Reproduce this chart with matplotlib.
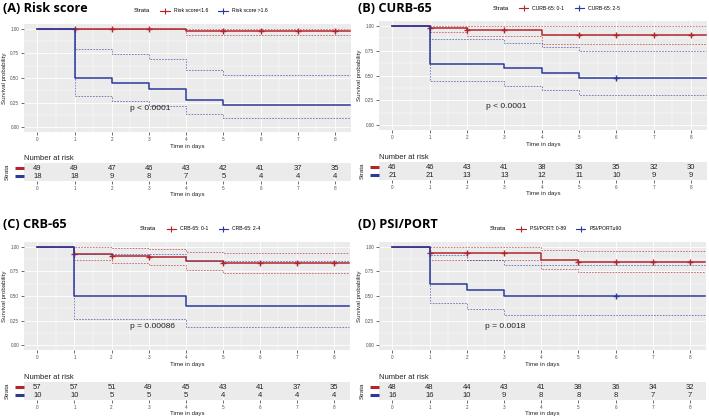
import numpy as np
import matplotlib.pyplot as plt
from matplotlib.lines import Line2D

plt.rcParams['font.family'] = ['Liberation Sans', 'DejaVu Sans']

RED = '#B2252B'
BLUE = '#2B3A9E'
END = 8.4
W, H = 709, 418

days = list(range(9))

# (A) Risk score
a_labels = ['Risk score<1.6', 'Risk score >1.6']
a_t_red = [0, 4]
a_s_red = [1.0, 0.977]
a_up_red = [1.0, 1.0]
a_lo_red = [1.0, 0.934]
a_cens_red = [1, 2, 3, 5, 6, 7, 8]
a_t_blue = [0, 1, 2, 3, 4, 5]
a_s_blue = [1.0, 0.5, 0.444, 0.389, 0.278, 0.222]
a_up_blue = [1.0, 0.794, 0.745, 0.694, 0.585, 0.527]
a_lo_blue = [1.0, 0.315, 0.265, 0.218, 0.132, 0.094]
a_cens_blue = []
a_risk_red = [49, 49, 47, 46, 43, 42, 41, 37, 35]
a_risk_blue = [18, 18, 9, 8, 7, 5, 4, 4, 4]

# (B) CURB-65
b_labels = ['CURB-65: 0-1', 'CURB-65: 2-5']
b_t_red = [0, 1, 2, 4]
b_s_red = [1.0, 0.978, 0.955, 0.905]
b_up_red = [1.0, 1.0, 1.0, 0.998]
b_lo_red = [1.0, 0.937, 0.897, 0.821]
b_cens_red = [1, 2, 3, 5, 6, 7, 8]
b_t_blue = [0, 1, 3, 4, 5]
b_s_blue = [1.0, 0.619, 0.571, 0.524, 0.476]
b_up_blue = [1.0, 0.866, 0.827, 0.788, 0.746]
b_lo_blue = [1.0, 0.443, 0.394, 0.349, 0.304]
b_cens_blue = [6]
b_risk_red = [46, 46, 43, 41, 38, 36, 35, 32, 30]
b_risk_blue = [21, 21, 13, 13, 12, 11, 10, 9, 9]

# (C) CRB-65
c_labels = ['CRB-65: 0-1', 'CRB-65: 2-4']
c_t_red = [0, 1, 2, 3, 4, 5]
c_s_red = [1.0, 0.930, 0.912, 0.893, 0.853, 0.833]
c_up_red = [1.0, 0.998, 0.989, 0.978, 0.953, 0.939]
c_lo_red = [1.0, 0.866, 0.840, 0.816, 0.762, 0.739]
c_cens_red = [1, 2, 3, 5, 6, 7, 8]
c_t_blue = [0, 1, 4]
c_s_blue = [1.0, 0.5, 0.4]
c_up_blue = [1.0, 0.929, 0.854]
c_lo_blue = [1.0, 0.269, 0.187]
c_cens_blue = []
c_risk_red = [57, 57, 51, 49, 45, 43, 41, 37, 35]
c_risk_blue = [10, 10, 5, 5, 5, 4, 4, 4, 4]

# (D) PSI/PORT
d_labels = ['PSI/PORT: 0-89', 'PSI/PORT\u226590']
d_t_red = [0, 1, 4, 5]
d_s_red = [1.0, 0.9375, 0.869, 0.846]
d_up_red = [1.0, 1.0, 0.972, 0.958]
d_lo_red = [1.0, 0.871, 0.777, 0.747]
d_cens_red = [1, 2, 3, 5, 6, 7, 8]
d_t_blue = [0, 1, 2, 3]
d_s_blue = [1.0, 0.625, 0.5625, 0.5]
d_up_blue = [1.0, 0.914, 0.867, 0.816]
d_lo_blue = [1.0, 0.428, 0.365, 0.306]
d_cens_blue = [6]
d_risk_red = [48, 48, 44, 43, 41, 38, 36, 34, 32]
d_risk_blue = [16, 16, 10, 9, 8, 8, 8, 7, 7]

pvals = ['p < 0.0001', 'p < 0.0001', 'p = 0.00086', 'p = 0.0018']
titles = ['(A) Risk score', '(B) CURB-65', '(C) CRB-65', '(D) PSI/PORT']


def box(l, t, r, b):
    return [l / W, 1 - b / H, (r - l) / W, (b - t) / H]


def style(ax):
    ax.set_facecolor('#EBEBEB')
    for sp in ax.spines.values():
        sp.set_visible(False)
    ax.set_xlim(-0.36, 8.43)
    ax.set_xticks(days)
    ax.tick_params(which='major', length=2, width=0.5, color='#333333',
                   labelsize=3.3, labelcolor='#4D4D4D', pad=1.5)
    ax.tick_params(which='minor', length=0)
    ax.set_axisbelow(True)


def km(ax, t, s, up, lo, cens, color):
    tt = list(t) + [END]
    ax.step(tt, list(s) + [s[-1]], where='post', color=color, lw=1.1)
    ax.step(tt, list(up) + [up[-1]], where='post', color=color, lw=0.6,
            ls=(0, (2, 1.5)), alpha=0.7)
    ax.step(tt, list(lo) + [lo[-1]], where='post', color=color, lw=0.6,
            ls=(0, (2, 1.5)), alpha=0.7)
    if cens:
        idx = np.searchsorted(t, cens, side='right') - 1
        ax.plot(cens, np.array(s)[idx], ls='none', marker='+', ms=4.5,
                mew=1.0, color=color)


fig = plt.figure(figsize=(7.09, 4.18), dpi=100)

panels = [
    (a_labels, (a_t_red, a_s_red, a_up_red, a_lo_red, a_cens_red),
     (a_t_blue, a_s_blue, a_up_blue, a_lo_blue, a_cens_blue),
     a_risk_red, a_risk_blue, (3, 8), (24, 24, 351, 132), (24, 163, 351, 181)),
    (b_labels, (b_t_red, b_s_red, b_up_red, b_lo_red, b_cens_red),
     (b_t_blue, b_s_blue, b_up_blue, b_lo_blue, b_cens_blue),
     b_risk_red, b_risk_blue, (358, 8), (379, 21, 707, 130), (379, 162, 707, 180)),
    (c_labels, (c_t_red, c_s_red, c_up_red, c_lo_red, c_cens_red),
     (c_t_blue, c_s_blue, c_up_blue, c_lo_blue, c_cens_blue),
     c_risk_red, c_risk_blue, (3, 225), (24, 242, 350, 350), (24, 382, 350, 400)),
    (d_labels, (d_t_red, d_s_red, d_up_red, d_lo_red, d_cens_red),
     (d_t_blue, d_s_blue, d_up_blue, d_lo_blue, d_cens_blue),
     d_risk_red, d_risk_blue, (358, 225), (379, 242, 706, 350), (379, 382, 706, 400)),
]

for k, (labels, red, blue, r_red, r_blue, tpos, pbox, tbox) in enumerate(panels):
    fig.text(tpos[0] / W, 1 - tpos[1] / H, titles[k], fontsize=9.2,
             fontweight='bold', family=['Open Sans', 'DejaVu Sans'], va='center')

    ax = fig.add_axes(box(*pbox))
    style(ax)
    ax.set_ylim(-0.05, 1.05)
    ax.set_yticks([0, 0.25, 0.5, 0.75, 1.0])
    ax.set_yticklabels(['0.00', '0.25', '0.50', '0.75', '1.00'])
    ax.set_xticks(np.arange(0.5, 8.5, 1), minor=True)
    ax.set_yticks([0.125, 0.375, 0.625, 0.875], minor=True)
    ax.grid(which='major', color='white', lw=0.6)
    ax.grid(which='minor', color='white', lw=0.3)
    ax.set_xlabel('Time in days', fontsize=4.4, labelpad=1.5, color='#222222')
    ax.set_ylabel('Survival probability', fontsize=4.4, labelpad=2, color='#222222')

    km(ax, *red, RED)
    km(ax, *blue, BLUE)
    ax.text(2.5, 0.19, pvals[k], fontsize=6, ha='left', va='center', color='#222222')

    h0 = Line2D([], [], alpha=0)
    hr = Line2D([], [], color=RED, marker='+', ms=4, mew=0.8, lw=0.8)
    hb = Line2D([], [], color=BLUE, marker='+', ms=4, mew=0.8, lw=0.8)
    ph = pbox[3] - pbox[1]
    leg = ax.legend([h0, hr, hb], ['Strata'] + labels, ncol=3, loc='center',
                    bbox_to_anchor=(0.52, 1 + 13 / ph), frameon=False, fontsize=3.7,
                    handlelength=1.8, handletextpad=0.8, columnspacing=2.0,
                    borderpad=0, borderaxespad=0)
    leg.get_texts()[0].set_fontsize(4.3)

    # number-at-risk table; colored tick marks act as strata keys
    tb = fig.add_axes(box(*tbox))
    style(tb)
    tb.set_ylim(0.4, 2.65)
    tb.grid(axis='x', color='white', lw=0.6)
    tb.set_yticks([2, 1])
    tb.set_yticklabels(['', ''])
    tb.tick_params(axis='y', length=6.5, width=2.2, pad=1)
    for tk, c in zip(tb.yaxis.get_major_ticks(), [RED, BLUE]):
        tk.tick1line.set_markeredgecolor(c)
    for i, d in enumerate(days):
        tb.text(d, 2, str(r_red[i]), ha='center', va='center', fontsize=5.5, color='#222222')
        tb.text(d, 1, str(r_blue[i]), ha='center', va='center', fontsize=5.5, color='#222222')
    tb.set_xlabel('Time in days', fontsize=4.4, labelpad=1, color='#222222')
    tb.set_ylabel('Strata', fontsize=4.4, labelpad=3, color='#222222')
    tb.set_title('Number at risk', loc='left', fontsize=5.5, pad=2, color='#222222')

fig.savefig('out.png', dpi=100)
